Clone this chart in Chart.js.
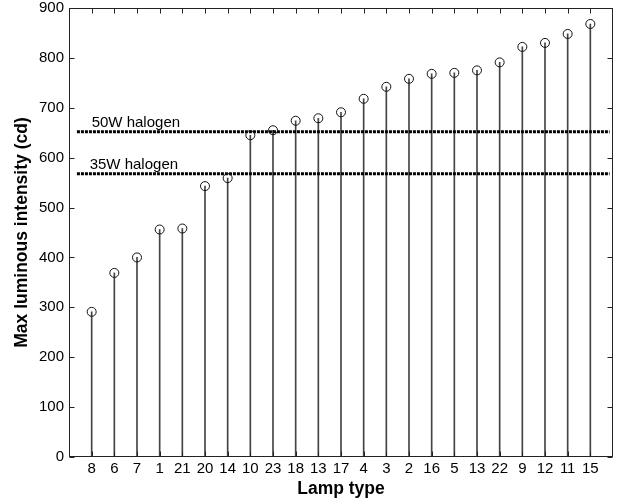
<!DOCTYPE html>
<html>
<head>
<meta charset="utf-8">
<script src="https://cdn.jsdelivr.net/npm/chart.js@4/dist/chart.umd.min.js"></script>
<style>
  body { margin: 0; background: #fff; }
  #wrap { width: 624px; height: 504px; }
</style>
</head>
<body>
<div id="wrap"><canvas id="myChart"></canvas></div>
<script>
// lamp types in the order they are plotted (sorted by intensity)
const lampTypes = ['8', '6', '7', '1', '21', '20', '14', '10', '23', '18', '13', '17',
                   '4', '3', '2', '16', '5', '13', '22', '9', '12', '11', '15'];
const maxIntensity = [291, 369, 400, 456, 458, 543, 559, 645, 655, 674, 679, 691,
                      718, 742, 758, 768, 770, 775, 791, 822, 830, 848, 868];

// reference levels
const halogenLabels = ['50W halogen', '35W halogen'];
const halogenValues = [652, 568];

const yTicks = [0, 100, 200, 300, 400, 500, 600, 700, 800, 900];

const FONT = 'Helvetica, Arial, "Liberation Sans", sans-serif';

const stems = lampTypes.map((t, i) => ({ x: i + 1, y: maxIntensity[i] }));

const halogenSets = halogenValues.map((v, i) => ({
    type: 'line',
    label: halogenLabels[i],
    data: [{ x: 0.35, y: v }, { x: 23.85, y: v }],
    borderColor: '#000',
    borderWidth: 3,
    borderDash: [3, 1],
    pointRadius: 0,
    order: 0
}));

// box around the plot, inward ticks (matlab style), halogen text labels
const axesPlugin = {
    id: 'axesBox',
    afterDraw(chart) {
        const { ctx, chartArea: a, scales: { x, y } } = chart;
        ctx.save();
        ctx.strokeStyle = '#222';
        ctx.lineWidth = 1;
        const L = Math.round(a.left) + 0.5, R = Math.round(a.right) - 0.5;
        const T = Math.round(a.top) + 0.5, B = Math.round(a.bottom) - 0.5;
        ctx.strokeRect(L, T, R - L, B - T);
        ctx.beginPath();
        yTicks.forEach(v => {
            const py = Math.round(y.getPixelForValue(v)) + 0.5;
            ctx.moveTo(L, py); ctx.lineTo(L + 5, py);
            ctx.moveTo(R, py); ctx.lineTo(R - 5, py);
        });
        lampTypes.forEach((t, i) => {
            const px = Math.round(x.getPixelForValue(i + 1)) + 0.5;
            ctx.moveTo(px, T); ctx.lineTo(px, T + 5);
            ctx.moveTo(px, B); ctx.lineTo(px, B - 5);
        });
        ctx.stroke();

        ctx.fillStyle = '#000';
        ctx.font = '15px ' + FONT;
        ctx.textAlign = 'left';
        ctx.textBaseline = 'alphabetic';
        halogenValues.forEach((v, i) => {
            const px = x.getPixelForValue(1) - i * 2;
            const py = y.getPixelForValue(v) - 5;
            ctx.fillText(halogenLabels[i], px, py);
        });
        ctx.restore();
    }
};

new Chart(document.getElementById('myChart'), {
    type: 'bar',
    data: {
        datasets: [
            {
                type: 'scatter',
                label: 'markers',
                data: stems,
                pointStyle: 'circle',
                pointRadius: 4.5,
                borderColor: '#111',
                borderWidth: 1,
                backgroundColor: 'rgba(0,0,0,0)',
                order: -1
            },
            ...halogenSets,
            {
                type: 'bar',
                label: 'stems',
                data: stems,
                barThickness: 1,
                backgroundColor: '#444',
                borderWidth: 0,
                order: 1
            }
        ]
    },
    options: {
        responsive: true,
        maintainAspectRatio: false,
        animation: false,
        layout: { padding: { top: 8, right: 11, left: 0, bottom: 0 } },
        plugins: {
            legend: { display: false },
            tooltip: { enabled: false }
        },
        scales: {
            x: {
                type: 'linear',
                min: 0,
                max: 24,
                offset: false,
                grid: { display: false, drawTicks: false },
                border: { display: false },
                afterFit: s => { s.height = 47; s.paddingLeft = 0; s.paddingRight = 0; },
                afterBuildTicks: s => {
                    s.ticks = lampTypes.map((t, i) => ({ value: i + 1 }));
                },
                ticks: {
                    autoSkip: false,
                    maxRotation: 0,
                    padding: 3,
                    color: '#000',
                    font: { family: FONT, size: 15 },
                    callback: v => lampTypes[v - 1] || ''
                },
                title: {
                    display: true,
                    text: 'Lamp type',
                    color: '#000',
                    font: { family: FONT, size: 17.5, weight: 'bold' },
                    padding: { top: 0, bottom: 4 }
                }
            },
            y: {
                min: 0,
                max: 900,
                grid: { display: false, drawTicks: false },
                border: { display: false },
                afterFit: s => { s.width = 69; s.paddingTop = 0; s.paddingBottom = 0; },
                afterBuildTicks: s => {
                    s.ticks = yTicks.map(v => ({ value: v }));
                },
                ticks: {
                    padding: 5,
                    color: '#000',
                    font: { family: FONT, size: 15 }
                },
                title: {
                    display: true,
                    text: 'Max luminous intensity (cd)',
                    color: '#000',
                    font: { family: FONT, size: 17.5, weight: 'bold' },
                    padding: { top: 12, bottom: 0 }
                }
            }
        }
    },
    plugins: [axesPlugin]
});
</script>
</body>
</html>
